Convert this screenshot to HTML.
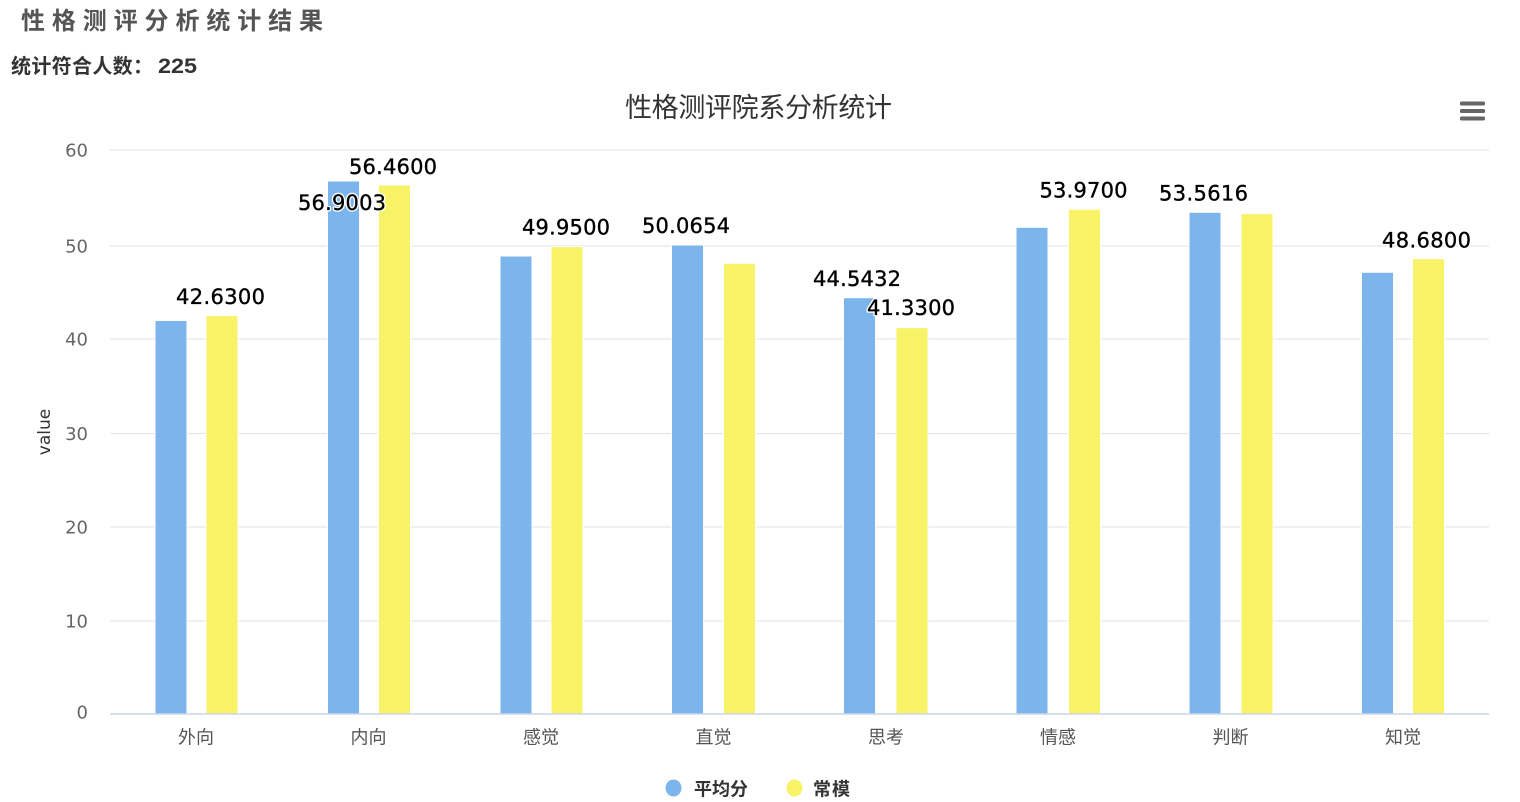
<!DOCTYPE html>
<html>
<head>
<meta charset="utf-8">
<style>
  html, body { margin: 0; padding: 0; background: #ffffff; }
  body { width: 1520px; height: 802px; overflow: hidden; }
  svg { display: block; }
  .cjk { font-family: "Liberation Sans", "Noto Sans CJK SC", "WenQuanYi Zen Hei", sans-serif; }
  .num { font-family: "DejaVu Sans", "Liberation Sans", sans-serif; }
  .dl { font-family: "DejaVu Sans", "Liberation Sans", sans-serif; font-size: 21px; fill: #000; }
  .dlo { font-family: "DejaVu Sans", "Liberation Sans", sans-serif; font-size: 21px; fill: #fff; stroke: #fff; stroke-width: 3px; stroke-linejoin: round; }
</style>
</head>
<body>
<svg width="1520" height="802" viewBox="0 0 1520 802" xmlns="http://www.w3.org/2000/svg">
  <rect x="0" y="0" width="1520" height="802" fill="#fff"/>

  <!-- Page headings -->
  <text class="cjk" x="21" y="29" font-size="24" font-weight="bold" fill="#555" textLength="302" lengthAdjust="spacing">性格测评分析统计结果</text>
  <text class="cjk" x="11" y="73" font-size="20" font-weight="bold" fill="#333" textLength="142" lengthAdjust="spacing">统计符合人数：</text>
  <text x="158" y="73" font-family="Liberation Sans, sans-serif" font-size="21" font-weight="bold" fill="#333" textLength="39" lengthAdjust="spacingAndGlyphs">225</text>

  <!-- Chart title -->
  <text class="cjk" x="625" y="117" font-size="27" fill="#333" textLength="267" lengthAdjust="spacing">性格测评院系分析统计</text>

  <!-- Menu icon -->
  <rect x="1460" y="101.5" width="25" height="4" rx="1.5" fill="#666"/>
  <rect x="1460" y="109" width="25" height="4" rx="1.5" fill="#666"/>
  <rect x="1460" y="116.5" width="25" height="4" rx="1.5" fill="#666"/>

  <!-- Grid lines -->
  <g stroke="#e6e6e6" stroke-width="1.2">
    <line x1="110" y1="150" x2="1489" y2="150"/>
    <line x1="110" y1="246" x2="1489" y2="246"/>
    <line x1="110" y1="339" x2="1489" y2="339"/>
    <line x1="110" y1="433.5" x2="1489" y2="433.5"/>
    <line x1="110" y1="527" x2="1489" y2="527"/>
    <line x1="110" y1="621" x2="1489" y2="621"/>
  </g>

  <!-- Y axis labels -->
  <g class="num" font-size="18" fill="#666" text-anchor="end">
    <text x="88" y="156.5">60</text>
    <text x="88" y="252.5">50</text>
    <text x="88" y="345.5">40</text>
    <text x="88" y="440">30</text>
    <text x="88" y="533.5">20</text>
    <text x="88" y="627.5">10</text>
    <text x="88" y="718.5">0</text>
  </g>
  <text class="num" x="0" y="0" font-size="17" fill="#333" text-anchor="middle" transform="translate(50,432) rotate(-90)">value</text>

  <!-- Bars: blue -->
  <g fill="#7cb5ec" stroke="#fff" stroke-width="1">
    <rect x="155" y="320.5" width="32" height="393.5"/>
    <rect x="327.5" y="181" width="32" height="533"/>
    <rect x="500" y="256" width="32" height="458"/>
    <rect x="671.5" y="245" width="32" height="469"/>
    <rect x="843.5" y="297.7" width="32" height="416.3"/>
    <rect x="1016" y="227.3" width="32" height="486.7"/>
    <rect x="1189" y="212.3" width="32" height="501.7"/>
    <rect x="1361.5" y="272.3" width="32" height="441.7"/>
  </g>
  <!-- Bars: yellow -->
  <g fill="#f7f266" stroke="#fff" stroke-width="1">
    <rect x="206" y="315.7" width="32" height="398.3"/>
    <rect x="378.5" y="185" width="32" height="529"/>
    <rect x="551" y="246.7" width="32" height="467.3"/>
    <rect x="723.5" y="263.3" width="32" height="450.7"/>
    <rect x="896" y="327.7" width="32" height="386.3"/>
    <rect x="1068.5" y="209.3" width="32" height="504.7"/>
    <rect x="1241" y="213.7" width="32" height="500.3"/>
    <rect x="1412.5" y="258.7" width="32" height="455.3"/>
  </g>

  <!-- X axis line -->
  <line x1="110" y1="714" x2="1489" y2="714" stroke="#ccd6eb" stroke-width="1.5"/>

  <!-- X labels -->
  <g class="cjk" font-size="18" fill="#555" text-anchor="middle">
    <text x="196" y="743.5">外向</text>
    <text x="368.5" y="743.5">内向</text>
    <text x="541" y="743.5">感觉</text>
    <text x="713.5" y="743.5">直觉</text>
    <text x="886" y="743.5">思考</text>
    <text x="1058" y="743.5">情感</text>
    <text x="1230.5" y="743.5">判断</text>
    <text x="1403" y="743.5">知觉</text>
  </g>

  <!-- Data labels: outline layer -->
  <g class="dlo">
    <text x="176" y="304" textLength="89" lengthAdjust="spacing">42.6300</text>
    <text x="298" y="210" textLength="88" lengthAdjust="spacing">56.9003</text>
    <text x="349" y="174" textLength="88" lengthAdjust="spacing">56.4600</text>
    <text x="522" y="234.3" textLength="88" lengthAdjust="spacing">49.9500</text>
    <text x="642" y="233" textLength="88" lengthAdjust="spacing">50.0654</text>
    <text x="813" y="286" textLength="88" lengthAdjust="spacing">44.5432</text>
    <text x="867" y="315" textLength="88" lengthAdjust="spacing">41.3300</text>
    <text x="1039.5" y="197.7" textLength="88" lengthAdjust="spacing">53.9700</text>
    <text x="1159" y="200.7" textLength="89" lengthAdjust="spacing">53.5616</text>
    <text x="1382" y="247.3" textLength="89" lengthAdjust="spacing">48.6800</text>
  </g>
  <!-- Data labels: fill layer -->
  <g class="dl" stroke="#000" stroke-width="0.35">
    <text x="176" y="304" textLength="89" lengthAdjust="spacing">42.6300</text>
    <text x="298" y="210" textLength="88" lengthAdjust="spacing">56.9003</text>
    <text x="349" y="174" textLength="88" lengthAdjust="spacing">56.4600</text>
    <text x="522" y="234.3" textLength="88" lengthAdjust="spacing">49.9500</text>
    <text x="642" y="233" textLength="88" lengthAdjust="spacing">50.0654</text>
    <text x="813" y="286" textLength="88" lengthAdjust="spacing">44.5432</text>
    <text x="867" y="315" textLength="88" lengthAdjust="spacing">41.3300</text>
    <text x="1039.5" y="197.7" textLength="88" lengthAdjust="spacing">53.9700</text>
    <text x="1159" y="200.7" textLength="89" lengthAdjust="spacing">53.5616</text>
    <text x="1382" y="247.3" textLength="89" lengthAdjust="spacing">48.6800</text>
  </g>

  <!-- Legend -->
  <ellipse cx="673.5" cy="788" rx="8" ry="8.5" fill="#7cb5ec"/>
  <text class="cjk" x="694" y="795.5" font-size="18" font-weight="bold" fill="#333" textLength="54" lengthAdjust="spacing">平均分</text>
  <ellipse cx="794.5" cy="788" rx="8" ry="8.5" fill="#f7f266"/>
  <text class="cjk" x="813" y="795.5" font-size="18" font-weight="bold" fill="#333" textLength="37" lengthAdjust="spacing">常模</text>
</svg>
</body>
</html>
